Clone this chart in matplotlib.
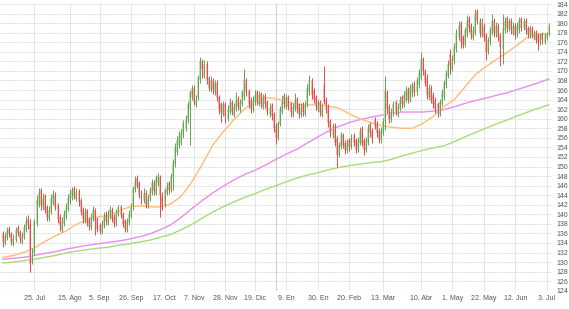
import matplotlib
matplotlib.use('Agg')
import matplotlib.pyplot as plt
import numpy as np

# daily OHLC, one value per trading day
opens = [
    136.0, 134.0, 135.0, 137.0, 136.0, 133.8, 134.6, 137.2, 136.4, 134.2,
    135.2, 136.8, 139.0, 138.0, 130.0, 132.0, 138.0, 142.0, 145.0, 141.5,
    143.8, 141.5, 139.0, 140.5, 142.5, 144.0, 142.0, 139.5, 136.8, 138.0,
    139.5, 141.0, 142.8, 143.5, 145.5, 143.2, 144.8, 143.0, 141.0, 138.6,
    140.8, 139.0, 137.2, 139.0, 141.0, 139.0, 137.8, 136.2, 137.6, 140.0,
    138.2, 139.5, 141.0, 139.5, 138.0, 140.0, 141.6, 140.0, 138.6, 136.8,
    138.2, 139.6, 141.5, 145.0, 147.5, 146.5, 144.6, 142.8, 144.5, 141.8,
    143.2, 144.5, 146.8, 144.5, 146.5, 147.8, 144.0, 142.0, 144.5, 146.5,
    145.0, 147.5, 150.5, 153.0, 154.5, 155.0, 156.5, 158.0, 159.5, 162.0,
    164.5, 166.5, 162.8, 164.5, 168.0, 172.0, 169.0, 171.5, 168.5, 166.0,
    168.0, 165.5, 167.5, 164.5, 163.0, 161.0, 163.0, 160.0, 161.5, 163.5,
    160.8, 162.0, 164.2, 161.8, 163.0, 164.5, 168.0, 165.8, 164.0, 162.0,
    163.2, 165.5, 163.0, 165.2, 162.5, 164.8, 163.5, 160.8, 162.8, 161.0,
    158.5, 156.0, 158.8, 161.5, 164.8, 162.5, 164.6, 163.0, 160.8, 162.0,
    164.2, 162.8, 160.8, 163.0, 161.0, 162.8, 165.5, 168.0, 166.0, 164.5,
    161.8, 163.5, 160.8, 167.0, 164.0, 162.5, 159.5, 156.5, 158.5, 156.0,
    152.5, 154.0, 156.5, 155.0, 153.2, 155.5, 154.0, 156.5, 155.5, 153.5,
    155.0, 158.0, 155.5, 153.5, 155.0, 158.8, 157.5, 160.0, 159.0, 157.5,
    155.5, 157.0, 159.5, 165.5, 162.5, 159.8, 161.0, 163.5, 160.8, 162.0,
    164.5, 162.8, 164.0, 166.2, 164.0, 165.0, 167.2, 165.5, 167.0, 168.5,
    172.5, 170.0, 168.5, 164.5, 166.5, 165.0, 164.0, 163.0, 161.0, 163.0,
    164.5, 167.0, 169.0, 173.5, 170.5, 172.0, 174.5, 177.0, 180.0, 177.0,
    175.5, 177.5, 181.0, 179.5, 176.8, 178.0, 182.5, 180.5, 177.5, 179.5,
    177.5, 174.0, 176.0, 178.0, 180.5, 177.5, 179.5, 177.5, 174.5, 178.5,
    181.0, 178.8, 180.5, 178.0, 179.5, 177.5, 178.5, 180.8, 179.0, 180.5,
    179.0, 177.2, 179.0, 176.8, 178.2, 177.5, 175.8, 177.8, 176.0, 176.8,
    177.6,
]
highs = [
    136.5, 136.2, 137.3, 137.6, 136.4, 135.8, 137.4, 137.8, 136.8, 136.3,
    138.0, 139.6, 139.8, 139.0, 133.0, 139.0, 144.0, 145.5, 145.5, 144.5,
    144.3, 142.0, 141.8, 144.2, 145.0, 144.6, 142.4, 140.0, 139.4, 140.8,
    142.4, 144.3, 145.3, 145.8, 146.0, 145.4, 145.2, 143.4, 141.5, 141.3,
    141.2, 139.5, 140.2, 141.8, 141.4, 139.5, 138.2, 138.8, 140.4, 140.6,
    140.8, 141.8, 141.6, 140.0, 141.2, 142.0, 142.0, 140.5, 139.0, 139.2,
    140.8, 142.3, 146.0, 148.0, 148.2, 147.0, 145.0, 145.4, 145.0, 144.2,
    145.8, 147.3, 147.2, 148.2, 148.6, 148.2, 144.6, 145.6, 146.8, 147.0,
    148.6, 151.6, 155.0, 156.3, 157.4, 157.8, 159.8, 160.8, 163.8, 166.0,
    167.0, 167.0, 165.0, 169.2, 173.0, 172.5, 172.2, 172.0, 169.0, 169.0,
    168.5, 168.2, 168.0, 165.0, 163.5, 163.8, 163.4, 162.8, 164.3, 164.0,
    163.3, 165.6, 164.8, 164.2, 166.0, 170.3, 168.6, 166.2, 164.5, 164.8,
    166.0, 166.0, 165.8, 165.6, 165.2, 165.3, 164.0, 163.2, 163.2, 161.4,
    159.0, 159.6, 162.6, 165.0, 165.3, 165.2, 165.0, 163.4, 163.2, 165.4,
    164.6, 163.2, 163.2, 163.5, 163.8, 167.2, 169.2, 168.5, 166.5, 165.0,
    164.2, 164.0, 163.2, 171.0, 164.5, 163.0, 160.0, 159.2, 159.0, 156.4,
    155.2, 157.2, 157.0, 155.5, 155.8, 156.0, 156.8, 157.0, 156.0, 156.2,
    158.2, 158.5, 156.0, 156.2, 158.8, 159.3, 158.0, 160.4, 159.5, 158.0,
    158.2, 160.2, 169.0, 166.0, 163.0, 162.2, 163.8, 164.0, 163.2, 164.8,
    165.0, 165.8, 166.8, 166.6, 167.2, 167.6, 167.8, 168.8, 170.4, 173.9,
    173.0, 170.5, 169.3, 167.2, 167.0, 165.5, 164.5, 163.4, 164.2, 166.2,
    168.2, 170.2, 172.3, 174.5, 173.3, 175.8, 178.8, 180.5, 180.4, 177.5,
    179.2, 181.7, 181.5, 180.0, 179.3, 183.0, 183.0, 181.0, 181.0, 180.0,
    178.0, 177.2, 179.2, 182.0, 181.0, 180.2, 180.0, 178.0, 182.0, 181.2,
    181.4, 181.0, 181.0, 180.2, 180.0, 180.3, 181.2, 181.2, 181.0, 181.0,
    179.5, 179.6, 179.4, 178.6, 178.6, 178.0, 178.0, 178.2, 178.0, 178.2,
    180.0,
]
lows = [
    133.2, 133.6, 134.6, 135.2, 133.5, 133.3, 134.2, 135.4, 134.0, 133.8,
    134.8, 136.4, 137.0, 128.0, 129.5, 131.5, 137.5, 141.5, 140.8, 141.0,
    140.2, 138.6, 138.5, 140.0, 142.0, 140.8, 138.2, 136.6, 136.2, 137.6,
    139.0, 140.6, 142.2, 143.0, 143.2, 142.8, 141.8, 139.8, 138.2, 138.2,
    137.6, 136.8, 136.8, 138.6, 135.6, 136.3, 135.8, 135.8, 137.2, 137.8,
    137.8, 139.0, 138.4, 137.3, 137.6, 139.6, 139.2, 137.4, 136.2, 136.4,
    137.8, 139.2, 141.0, 144.6, 145.4, 143.4, 142.2, 142.4, 141.4, 141.3,
    142.8, 144.0, 144.0, 144.0, 146.0, 139.5, 140.8, 141.6, 144.0, 144.2,
    144.6, 145.0, 150.0, 152.5, 153.8, 154.5, 156.0, 157.5, 159.0, 154.5,
    164.0, 162.8, 162.4, 164.0, 167.5, 168.5, 168.5, 167.3, 165.8, 165.5,
    165.2, 165.0, 163.8, 161.0, 159.3, 160.5, 159.2, 159.6, 161.0, 160.8,
    160.4, 161.6, 161.8, 161.4, 162.6, 164.0, 164.8, 162.2, 161.2, 161.5,
    162.8, 162.8, 162.6, 162.3, 162.0, 162.3, 160.8, 160.4, 159.8, 157.2,
    154.8, 155.5, 158.4, 161.0, 162.3, 162.0, 161.8, 160.4, 160.4, 161.6,
    161.3, 160.2, 160.4, 160.6, 160.6, 162.4, 165.0, 164.2, 163.3, 161.8,
    161.4, 160.6, 160.4, 163.0, 161.2, 158.2, 156.2, 156.0, 154.2, 150.0,
    152.0, 153.6, 153.8, 152.6, 152.8, 153.2, 153.6, 154.3, 152.8, 153.0,
    154.6, 154.2, 152.4, 153.0, 154.6, 156.2, 155.0, 157.8, 156.2, 155.0,
    155.0, 156.6, 157.7, 161.3, 159.2, 159.4, 160.6, 160.8, 160.4, 161.6,
    162.3, 162.4, 163.6, 163.3, 163.6, 164.6, 164.8, 165.0, 166.5, 168.0,
    169.2, 166.8, 164.2, 164.0, 163.2, 162.2, 161.2, 160.4, 160.6, 162.6,
    164.0, 166.5, 168.5, 169.3, 170.0, 171.5, 174.0, 176.5, 174.9, 174.8,
    175.0, 177.0, 178.2, 176.6, 176.4, 177.5, 179.8, 177.2, 177.0, 176.2,
    172.2, 173.5, 175.5, 177.5, 177.2, 177.0, 176.2, 171.0, 171.5, 178.0,
    178.2, 178.3, 177.8, 177.6, 176.6, 177.0, 178.0, 178.3, 178.6, 177.8,
    176.8, 176.8, 176.8, 176.4, 175.8, 174.3, 175.4, 175.6, 175.6, 176.4,
    177.4,
]
closes = [
    134.5, 135.5, 136.5, 135.8, 134.2, 135.0, 136.8, 136.0, 134.8, 135.6,
    137.4, 138.6, 137.8, 129.5, 131.5, 138.5, 143.0, 144.5, 142.0, 143.5,
    141.0, 139.5, 141.0, 143.5, 144.2, 141.5, 139.0, 137.5, 138.5, 140.0,
    141.5, 143.5, 144.5, 145.0, 143.8, 144.6, 142.5, 140.5, 139.0, 140.5,
    138.2, 137.5, 139.5, 141.0, 138.5, 137.0, 136.5, 138.0, 139.5, 138.5,
    140.0, 141.2, 139.0, 138.0, 140.5, 141.5, 139.8, 138.0, 137.0, 138.5,
    140.0, 141.5, 145.5, 147.0, 146.0, 144.0, 143.0, 144.5, 142.0, 143.5,
    145.0, 146.5, 144.8, 147.5, 148.0, 144.0, 141.5, 145.0, 146.0, 145.0,
    148.0, 151.0, 154.0, 155.5, 156.5, 157.0, 159.0, 160.0, 163.0, 165.5,
    166.5, 163.5, 164.0, 168.5, 172.0, 170.5, 171.5, 168.0, 166.5, 168.0,
    166.0, 167.5, 164.5, 162.0, 161.5, 163.0, 160.5, 162.0, 163.5, 161.5,
    162.5, 164.0, 162.5, 163.5, 165.5, 168.0, 165.5, 163.0, 162.0, 164.0,
    165.0, 163.5, 165.0, 163.0, 164.5, 163.0, 161.5, 162.5, 160.5, 158.0,
    156.0, 159.0, 162.0, 164.0, 163.0, 164.5, 162.5, 161.5, 162.5, 164.0,
    162.0, 161.0, 162.5, 161.5, 163.0, 166.5, 168.0, 165.0, 164.0, 162.5,
    163.5, 161.5, 162.5, 163.5, 162.0, 159.0, 157.0, 158.5, 155.0, 152.5,
    154.5, 156.5, 154.5, 153.5, 155.0, 154.0, 156.0, 155.0, 153.5, 155.5,
    157.5, 155.0, 153.5, 155.5, 158.0, 157.0, 156.0, 158.5, 157.0, 155.5,
    157.5, 159.5, 166.0, 162.0, 160.0, 161.5, 163.0, 161.5, 162.5, 164.0,
    163.0, 165.0, 166.0, 164.0, 166.5, 167.0, 165.5, 168.0, 169.5, 172.5,
    170.0, 167.5, 165.0, 166.5, 164.0, 163.0, 162.0, 161.0, 163.5, 165.5,
    167.5, 169.5, 171.5, 171.0, 172.5, 175.0, 178.0, 179.5, 176.0, 175.5,
    178.5, 180.5, 179.0, 177.5, 178.5, 182.0, 180.5, 178.0, 180.0, 177.0,
    174.0, 176.5, 178.5, 180.5, 178.0, 179.5, 177.0, 175.0, 179.0, 180.5,
    179.0, 180.5, 178.5, 179.5, 177.5, 179.5, 180.5, 179.0, 180.5, 178.5,
    177.5, 179.0, 177.5, 178.0, 176.5, 176.0, 177.5, 176.5, 177.5, 177.8,
    179.5,
]

# moving averages, read every 5 trading days
ma_days = list(range(0, 261, 5))
ma_fast = [131.0, 131.4, 132.0, 133.0, 134.3, 135.5, 136.5, 137.9, 138.8, 139.4,
           139.8, 140.6, 141.5, 141.8, 141.6, 141.5, 142.2, 143.8, 146.8, 150.5,
           154.5, 157.3, 159.8, 162.0, 163.8, 164.4, 164.2, 163.6, 163.0, 162.9,
           162.9, 162.6, 162.2, 161.0, 160.0, 159.2, 158.6, 158.2, 158.0, 158.0,
           159.0, 160.5, 162.5, 164.0, 166.6, 169.2, 170.9, 172.4, 173.8, 175.4,
           177.1, 177.7, 177.8]
ma_mid = [130.6, 130.8, 131.0, 131.4, 131.8, 132.2, 132.7, 133.1, 133.5, 133.8,
          134.1, 134.4, 134.8, 135.3, 135.9, 136.8, 137.8, 139.4, 141.2, 142.9,
          144.5, 145.9, 147.2, 148.3, 149.2, 150.3, 151.5, 152.6, 153.6, 154.9,
          156.2, 157.4, 158.4, 159.2, 159.8, 160.3, 160.7, 161.1, 161.4, 161.4,
          161.4, 161.6, 161.9, 162.5, 163.2, 163.8, 164.3, 164.9, 165.4, 166.1,
          166.8, 167.5, 168.3]
ma_slow = [129.8, 130.0, 130.3, 130.6, 131.0, 131.4, 131.9, 132.3, 132.6, 132.9,
           133.1, 133.5, 133.8, 134.2, 134.6, 135.2, 135.8, 136.8, 137.9, 139.2,
           140.5, 141.6, 142.6, 143.5, 144.3, 145.2, 146.0, 146.8, 147.6, 148.2,
           148.7, 149.3, 149.8, 150.2, 150.5, 150.8, 151.0, 151.5, 152.2, 152.8,
           153.4, 153.9, 154.3, 155.2, 156.2, 157.1, 158.0, 158.9, 159.7, 160.6,
           161.4, 162.2, 162.9]

tick_days = [15, 32, 46, 61, 77, 91, 106, 120, 135, 150, 165, 181, 199, 214, 229, 244, 259]
tick_labels = ['25. Jul', '15. Ago', '5. Sep', '26. Sep', '17. Oct', '7. Nov', '28. Nov',
               '19. Dic', '9. En', '30. En', '20. Feb', '13. Mar', '10. Abr', '1. May',
               '22. May', '12. Jun', '3. Jul']
year_break = 130

plt.rcParams['font.family'] = ['Liberation Sans', 'DejaVu Sans']

fig = plt.figure(figsize=(5.69, 3.09), dpi=100)
ax = fig.add_axes([0, 0.059, 0.970, 0.928])

days = np.arange(len(closes))
o = np.array(opens)
c = np.array(closes)
h = np.array(highs)
l = np.array(lows)
up = c >= o
dn = ~up

# moving averages
ax.plot(ma_days, ma_slow, color='#a6dc7a', lw=1.0, zorder=2)
ax.plot(ma_days, ma_mid, color='#e98cf3', lw=1.0, zorder=2)
ax.plot(ma_days, ma_fast, color='#ffbb77', lw=1.0, zorder=2)

# candles: pale body, darker high-low line
body_lo = np.minimum(o, c)
body_h = np.maximum(np.abs(c - o), 0.2)
ax.bar(days[up], body_h[up], bottom=body_lo[up], width=0.95, color='#c0dfb4', zorder=3)
ax.bar(days[dn], body_h[dn], bottom=body_lo[dn], width=0.95, color='#f7b2b2', zorder=3)
ax.vlines(days[up], l[up], h[up], color='#62a552', lw=0.7, zorder=4)
ax.vlines(days[dn], l[dn], h[dn], color='#e84848', lw=0.7, zorder=4)

ax.set_xlim(-1.4, 261.5)
ax.set_ylim(124, 184)
ax.set_yticks(range(124, 185, 2))
ax.set_xticks(tick_days, tick_labels)
ax.yaxis.tick_right()
ax.tick_params(length=0, labelsize=5, colors='#555555')
ax.tick_params(axis='y', pad=3)
ax.tick_params(axis='x', pad=3)

ax.grid(axis='y', color='#dcdcdc', lw=0.6, ls=(0, (3, 1)), zorder=0)
ax.grid(axis='x', color='#e2e2e2', lw=0.6, zorder=0)
ax.axvline(year_break, color='#cfcfcf', lw=0.8, zorder=0)
for s in ax.spines.values():
    s.set_visible(False)
ax.axhline(124, color='#cccccc', lw=0.8, zorder=1)

fig.savefig('out.png', dpi=100)
